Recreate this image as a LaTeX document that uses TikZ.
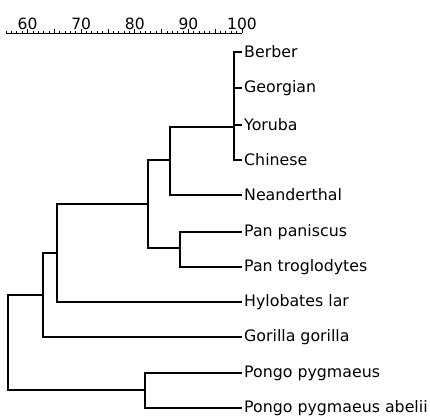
\documentclass[tikz,border=0pt]{standalone}
\usepackage{fontspec}
\setmainfont{DejaVu Sans}
\begin{document}
\begin{tikzpicture}[x=1pt,y=-1pt,
  leaf/.style={anchor=west, inner xsep=2pt, inner ysep=0pt, font=\fontsize{15.8}{18}\selectfont},
  scalelab/.style={anchor=base, inner sep=0pt, font=\fontsize{15.5}{17}\selectfont},
  branch/.style={draw=black, line width=1.1pt},
  tick/.style={draw=black, line width=0.9pt}]
\useasboundingbox (0,0) rectangle (430,418);
% scale bar
\draw[tick] (6,33) -- (242,33);
\foreach \v in {56,...,100} {\draw[tick] ({242-(100-\v)*5.36},33) -- ++(0,-2.4);}
\foreach \v in {60,65,...,100} {\draw[tick] ({242-(100-\v)*5.36},33) -- ++(0,-3.8);}
\foreach \v in {60,70,...,100} {\node[scalelab] (s\v) at ({242-(100-\v)*5.36},29.5) {\v};}
% leaves
\node[leaf] (berber) at (242,52) {Berber};
\node[leaf] (georgian) at (242,88) {Georgian};
\node[leaf] (yoruba) at (242,125) {Yoruba};
\node[leaf] (chinese) at (242,160) {Chinese};
\node[leaf] (nean) at (242,195) {Neanderthal};
\node[leaf] (panp) at (242,232) {Pan paniscus};
\node[leaf] (pant) at (242,267) {Pan troglodytes};
\node[leaf] (hylo) at (242,302) {Hylobates lar};
\node[leaf] (gorilla) at (242,337) {Gorilla gorilla};
\node[leaf] (pp) at (242,373) {Pongo pygmaeus};
\node[leaf] (ppa) at (242,408) {Pongo pygmaeus abelii};
% internal nodes
\coordinate (hum) at (234,127);
\coordinate (hn) at (170,160);
\coordinate (pan) at (180,248);
\coordinate (hnp) at (148,204);
\coordinate (hyl) at (57,253);
\coordinate (gor) at (43,295);
\coordinate (pon) at (145,390);
\coordinate (root) at (8,342);
% branches
\draw[branch] (berber.west) -| (hum) |- (chinese.west);
\draw[branch] (hum |- georgian.west) -- (georgian.west);
\draw[branch] (hum |- yoruba.west) -- (yoruba.west);
\draw[branch] (hum) -| (hn) |- (nean.west);
\draw[branch] (panp.west) -| (pan) |- (pant.west);
\draw[branch] (hn) -| (hnp) |- (pan);
\draw[branch] (hnp) -| (hyl) |- (hylo.west);
\draw[branch] (hyl) -| (gor) |- (gorilla.west);
\draw[branch] (pp.west) -| (pon) |- (ppa.west);
\draw[branch] (gor) -| (root) |- (pon);
\end{tikzpicture}
\end{document}
